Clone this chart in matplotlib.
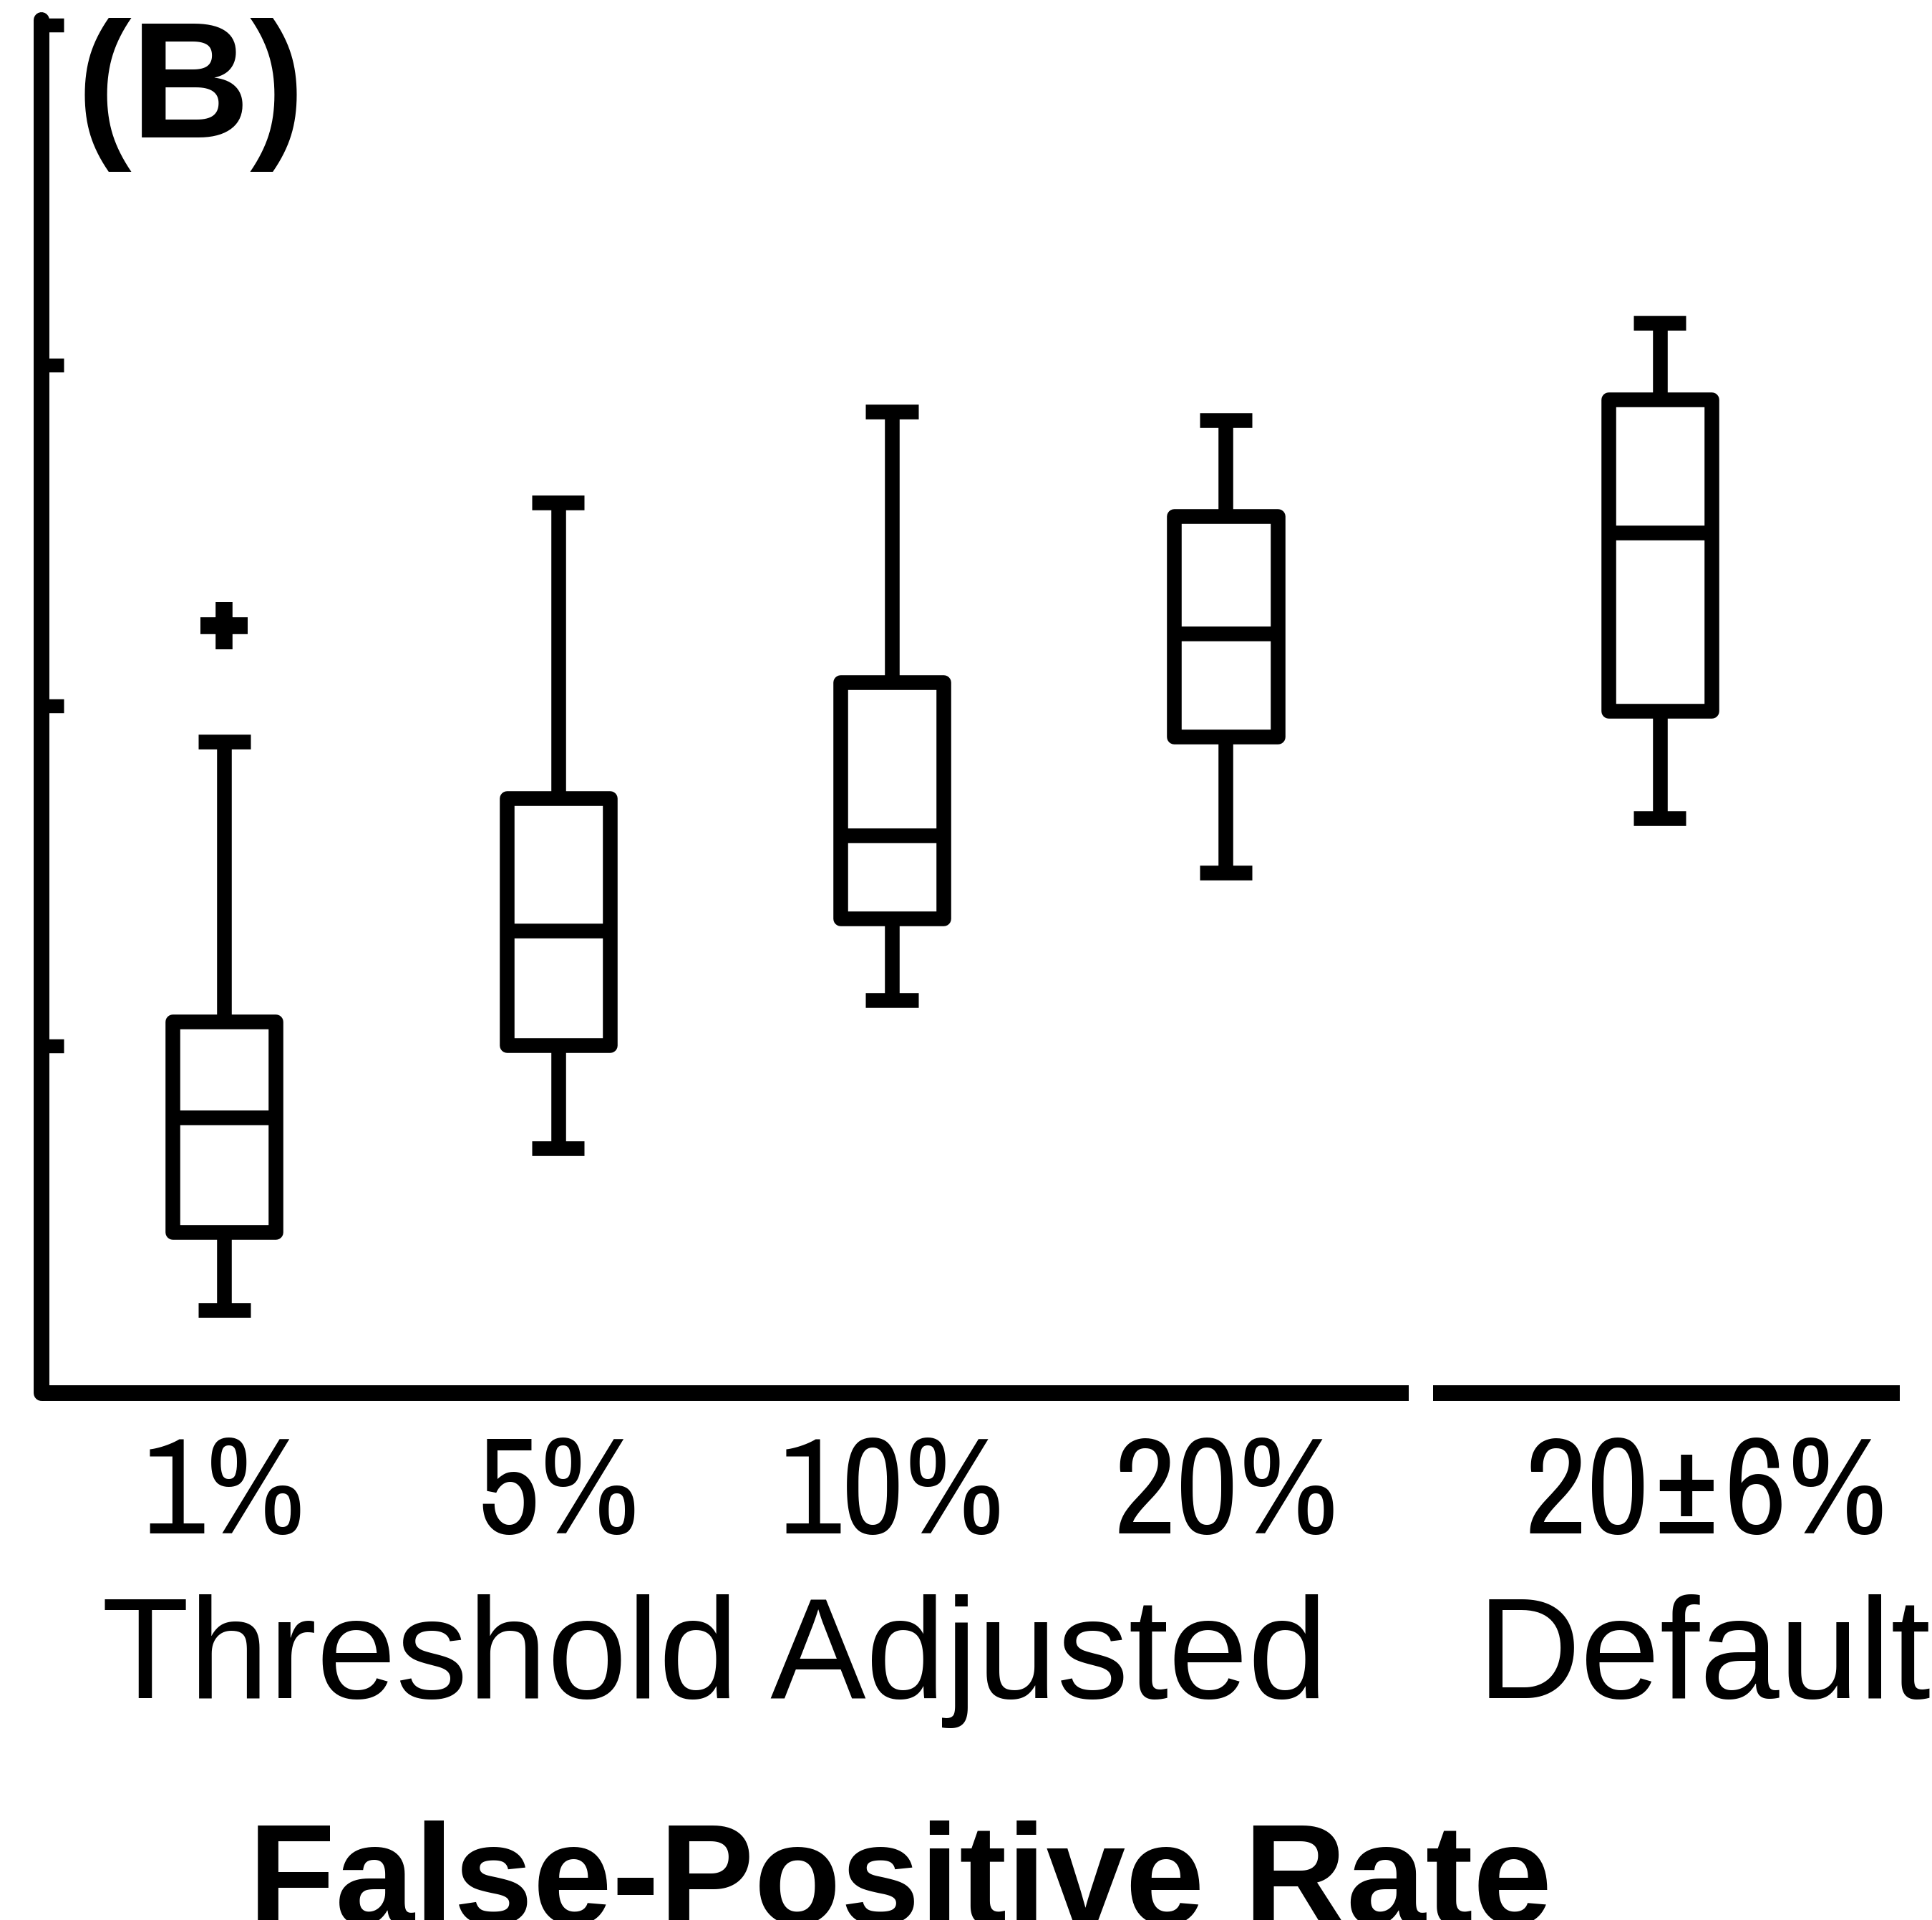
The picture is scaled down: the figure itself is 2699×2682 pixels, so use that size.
import matplotlib
matplotlib.use('Agg')
import matplotlib.pyplot as plt
import matplotlib.transforms as mtransforms
from matplotlib import font_manager
from matplotlib.font_manager import FontProperties

# ---- data ----
categories = ['1%', '5%', '10%', '20%', '20±6%']
positions = [1, 2, 3, 4, 5.30]
whisker_low = [0.225, 0.699, 1.135, 1.510, 1.669]
q1 = [0.453, 1.003, 1.374, 1.908, 1.984]
median = [0.789, 1.339, 1.618, 2.212, 2.509]
q3 = [1.0715, 1.727, 2.068, 2.556, 2.900]
whisker_high = [1.893, 2.596, 2.864, 2.838, 3.124]
outliers = [[2.234], [], [], [], []]
yticks = [1, 2, 3, 4]
group_labels = ['Threshold Adjusted', 'Default']
xlabel = 'False-Positive Rate'
panel = '(B)'


def pick(family_names, weight):
    """Return the font file of the first family found, closest to the weight."""
    for fam in family_names:
        cands = [f for f in font_manager.fontManager.ttflist
                 if f.name == fam and f.style == 'normal'
                 and str(f.stretch) in ('normal', 'condensed', 'semi-condensed', '500')]
        if cands:
            def w(f):
                try:
                    return int(f.weight)
                except (TypeError, ValueError):
                    return 400
            cands.sort(key=lambda f: (abs(w(f) - weight), 'Italic' in f.fname, len(f.fname)))
            return cands[0].fname
    return None


narrow_file = pick(['Liberation Sans Narrow', 'Arial Narrow', 'Archivo Narrow',
                    'Roboto Condensed'], 400)
reg_file = pick(['Liberation Sans', 'Arimo', 'DejaVu Sans'], 400)
bold_file = pick(['Liberation Sans', 'Arimo', 'DejaVu Sans'], 700)


def fp(fname, size, fallback_weight='normal'):
    if fname:
        return FontProperties(fname=fname, size=size)
    return FontProperties(family='DejaVu Sans', weight=fallback_weight, size=size)


W, H = 2699, 2682
fig = plt.figure(figsize=(W / 100, H / 100), dpi=100)
ax = fig.add_axes([58 / W, (H - 1946) / H, (2643 - 58) / W, (1946 - 28) / H])
ax.set_xlim(0.453, 5.995)
ax.set_ylim(-0.02, 4.014)

stats = []
for lo, a, m, b, hi, fl in zip(whisker_low, q1, median, q3, whisker_high, outliers):
    stats.append(dict(whislo=lo, q1=a, med=m, q3=b, whishi=hi, fliers=fl))

lw = 14.8
ax.bxp(stats, positions=positions, widths=0.309, capwidths=0.157, showfliers=True,
       patch_artist=True,
       boxprops=dict(facecolor='none', edgecolor='k', linewidth=lw, joinstyle='round'),
       whiskerprops=dict(color='k', lw=lw, solid_capstyle='butt'),
       capprops=dict(color='k', lw=lw, solid_capstyle='butt'),
       medianprops=dict(color='k', lw=lw, solid_capstyle='butt'),
       flierprops=dict(marker='+', markersize=48, markeredgewidth=17,
                       markeredgecolor='k', linestyle='none'))

for s in ['top', 'right', 'bottom']:
    ax.spines[s].set_visible(False)
ax.spines['left'].set_linewidth(15.8)
ax.spines['left'].set_capstyle('round')
ax.spines['left'].set_color('k')

# broken bottom axis
y0 = ax.get_ylim()[0]
ax.plot([ax.get_xlim()[0], 4.548], [y0, y0], color='k', lw=15.8,
        solid_capstyle='butt', clip_on=False)
ax.plot([4.62, 6.018], [y0, y0], color='k', lw=15.8,
        solid_capstyle='butt', clip_on=False)

ax.set_yticks(yticks)
ax.set_yticklabels([])
ax.tick_params(axis='y', direction='in', length=22, width=14, color='k')

ax.set_xticks(positions)
if narrow_file:
    ax.set_xticklabels(categories, fontproperties=fp(narrow_file, 138))
else:
    ax.set_xticklabels(categories, fontproperties=fp(reg_file, 124))
ax.tick_params(axis='x', length=0, pad=42)
lab = ax.get_xticklabels()[4]
lab.set_transform(lab.get_transform() + mtransforms.ScaledTranslation(0.64, 0, fig.dpi_scale_trans))

fig.text(0.0396, 0.9284, panel, fontproperties=fp(bold_file, 166, 'bold'),
         ha='left', va='baseline')
fig.text(0.0526, 0.1156, group_labels[0], fontproperties=fp(reg_file, 144),
         ha='left', va='baseline')
fig.text(0.7647, 0.1156, group_labels[1], fontproperties=fp(reg_file, 144),
         ha='left', va='baseline')
fig.text(0.1286, -0.0019, xlabel, fontproperties=fp(bold_file, 143, 'bold'),
         ha='left', va='baseline')

fig.savefig('out.png', dpi=100)
